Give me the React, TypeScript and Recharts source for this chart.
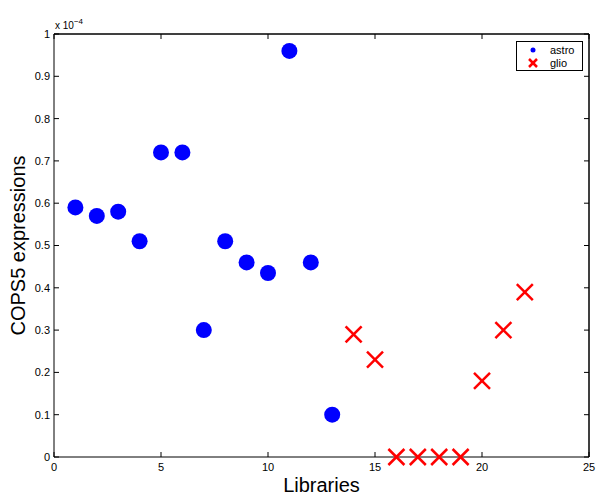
import React from 'react';
import { ScatterChart, Scatter, XAxis, YAxis, ReferenceLine } from 'recharts';

const astroX = [1, 2, 3, 4, 5, 6, 7, 8, 9, 10, 11, 12, 13];
const astroY = [0.59, 0.57, 0.58, 0.51, 0.72, 0.72, 0.30, 0.51, 0.46, 0.435, 0.96, 0.46, 0.10];
const glioX = [14, 15, 16, 17, 18, 19, 20, 21, 22];
const glioY = [0.29, 0.23, 0.0, 0.0, 0.0, 0.0, 0.18, 0.30, 0.39];
const xTicks = [0, 5, 10, 15, 20, 25];
const yTicks = [0, 0.1, 0.2, 0.3, 0.4, 0.5, 0.6, 0.7, 0.8, 0.9, 1];
const seriesNames = ['astro', 'glio'];

const astroData = astroX.map((x, i) => ({ x, y: astroY[i] }));
const glioData = glioX.map((x, i) => ({ x, y: glioY[i] }));

const FONT = '"Liberation Sans", Arial, Helvetica, sans-serif';

const Dot = (props: any) => {
  const { cx, cy } = props;
  return <circle cx={cx} cy={cy} r={8} fill="#0000ff" />;
};

const Cross = (props: any) => {
  const { cx, cy } = props;
  const s = 8;
  return (
    <g stroke="#ff0000" strokeWidth={2.5}>
      <line x1={cx - s} y1={cy - s} x2={cx + s} y2={cy + s} />
      <line x1={cx - s} y1={cy + s} x2={cx + s} y2={cy - s} />
    </g>
  );
};

const fmtY = (v: number) => (v === 0 ? '0' : v === 1 ? '1' : String(Math.round(v * 10) / 10));

const YLabel = (props: any) => {
  const vb = props.viewBox || {};
  const right = vb.x + vb.width;
  const top = vb.y;
  const midY = vb.y + vb.height / 2;
  return (
    <g>
      <text
        x={18}
        y={midY}
        transform={`rotate(-90 18 ${midY})`}
        textAnchor="middle"
        dominantBaseline="central"
        fontFamily={FONT}
        fontSize={20}
        fill="#000"
      >
        COPS5 expressions
      </text>
      <text x={right + 1} y={top - 5} fontFamily={FONT} fontSize={10} fill="#000">
        x 10
        <tspan dy={-5} fontSize={8}>−4</tspan>
      </text>
    </g>
  );
};

const LegendBox = () => (
  <div
    style={{
      position: 'absolute',
      left: 516,
      top: 41,
      border: '1px solid #000',
      background: '#fff',
      width: 67,
      height: 30,
      boxSizing: 'border-box',
      fontFamily: FONT,
      fontSize: 11,
    }}
  >
    <svg width={65} height={28} style={{ position: 'absolute', left: 0, top: 0 }}>
      <circle cx={16} cy={8} r={2.5} fill="#0000ff" />
      <g stroke="#ff0000" strokeWidth={2.5}>
        <line x1={12} y1={17} x2={20} y2={25} />
        <line x1={12} y1={25} x2={20} y2={17} />
      </g>
      <text x={33} y={12} fontFamily={FONT} fontSize={11} fill="#000">{seriesNames[0]}</text>
      <text x={33} y={25} fontFamily={FONT} fontSize={11} fill="#000">{seriesNames[1]}</text>
    </svg>
  </div>
);

export default function App() {
  return (
    <div style={{ position: 'absolute', left: 0, top: 0, width: 600, height: 501, background: '#fff' }}>
      <ScatterChart width={600} height={501} margin={{ top: 14, right: 0, bottom: 0, left: 0 }}>
        <XAxis
          xAxisId="b"
          dataKey="x"
          type="number"
          domain={[0, 25]}
          ticks={xTicks}
          orientation="bottom"
          height={44}
          stroke="#000"
          tickSize={-5}
          tickMargin={11}
          tick={{ fontFamily: FONT, fontSize: 11, fill: '#000' }}
          label={{ value: 'Libraries', position: 'insideBottom', offset: 9, fontFamily: FONT, fontSize: 20, fill: '#000' }}
        />
        <XAxis
          xAxisId="t"
          dataKey="x"
          type="number"
          domain={[0, 25]}
          ticks={xTicks}
          orientation="top"
          height={20}
          stroke="#000"
          tickSize={-5}
          tickMargin={9}
          tick={{ fontFamily: FONT, fontSize: 11, fill: 'none' }}
        />
        <YAxis
          yAxisId="l"
          dataKey="y"
          type="number"
          domain={[0, 1]}
          ticks={yTicks}
          orientation="left"
          width={54}
          stroke="#000"
          tickSize={-5}
          tickMargin={9}
          tickFormatter={fmtY}
          tick={{ fontFamily: FONT, fontSize: 11, fill: '#000' }}
          label={{ content: YLabel }}
        />
        <YAxis
          yAxisId="r"
          dataKey="y"
          type="number"
          domain={[0, 1]}
          ticks={yTicks}
          orientation="right"
          width={11}
          stroke="#000"
          tickSize={-5}
          tickMargin={9}
          tick={{ fontFamily: FONT, fontSize: 11, fill: 'none' }}
        />
        <ReferenceLine xAxisId="b" yAxisId="l" y={1} stroke="#000" strokeWidth={1} />
        <ReferenceLine xAxisId="b" yAxisId="l" x={25} stroke="#000" strokeWidth={1} />
        <Scatter
          name="astro"
          data={astroData}
          xAxisId="b"
          yAxisId="l"
          shape={Dot}
          isAnimationActive={false}
        />
        <Scatter
          name="glio"
          data={glioData}
          xAxisId="b"
          yAxisId="l"
          shape={Cross}
          isAnimationActive={false}
        />
        <Scatter
          name="frame"
          data={astroData}
          xAxisId="t"
          yAxisId="r"
          fill="none"
          isAnimationActive={false}
        />
      </ScatterChart>
      <LegendBox />
    </div>
  );
}
